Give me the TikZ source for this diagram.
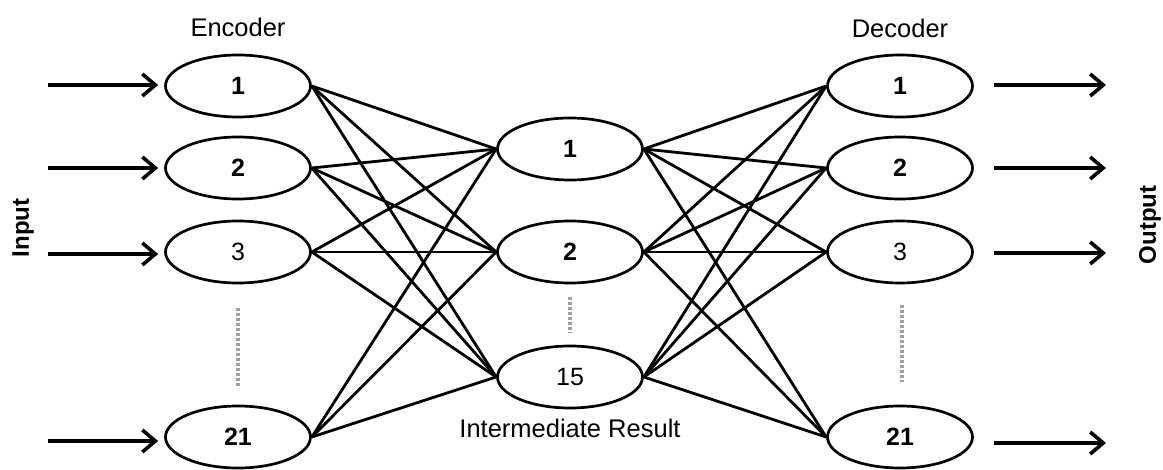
\documentclass[tikz,border=0pt]{standalone}
\usepackage{fontspec}
\setmainfont{Liberation Sans}
\usetikzlibrary{shapes.geometric,arrows.meta}
\tikzset{
  unit/.style={ellipse,draw,line width=2.7pt,minimum width=145pt,minimum height=62pt,inner sep=0pt,font=\fontsize{25}{27}\selectfont},
  link/.style={line width=2.8pt,black},
  flow/.style={line width=3.6pt,-{Straight Barb[length=13pt,width=22pt,line width=3.6pt]}},
  gap/.style={line width=4.5pt,gray!75,dash pattern=on 3pt off 2pt},
  title/.style={font=\fontsize{25.5}{27}\selectfont},
  side/.style={font=\bfseries\fontsize{24}{26}\selectfont,rotate=90}
}
\begin{document}
\begin{tikzpicture}[x=1pt,y=-1pt]
\useasboundingbox (0,0) rectangle (1163,470);

% encoder layer
\node[unit] (e1) at (238,86) {\textbf{1}};
\node[unit] (e2) at (238,168) {\textbf{2}};
\node[unit] (e3) at (238,252) {3};
\node[unit] (e21) at (238,437) {\textbf{21}};

% intermediate layer
\node[unit] (m1) at (570,149) {\textbf{1}};
\node[unit] (m2) at (570,252) {\textbf{2}};
\node[unit] (m15) at (570,377) {15};

% decoder layer
\node[unit] (d1) at (900,86) {\textbf{1}};
\node[unit] (d2) at (900,168) {\textbf{2}};
\node[unit] (d3) at (900,252) {3};
\node[unit] (d21) at (900,437) {\textbf{21}};

% labels
\node[title] (tenc) at (238,27) {Encoder};
\node[title] (tdec) at (900,28) {Decoder};
\node[title] (tmid) at (570,428) {Intermediate Result};
\node[side] (tin) at (23,228) {Input};
\node[side] (tout) at (1150,225) {Output};

% elided units
\draw[gap] (238,308) -- (238,388);
\draw[gap] (570,297) -- (570,333);
\draw[gap] (902,305) -- (902,382);

% full connections
\foreach \a in {e1,e2,e3,e21}
  \foreach \b in {m1,m2,m15}
    \draw[link] (\a.east) -- (\b.west);
\foreach \a in {m1,m2,m15}
  \foreach \b in {d1,d2,d3,d21}
    \draw[link] (\a.east) -- (\b.west);

% inputs and outputs
\foreach \n/\y in {e1/85,e2/168,e3/254,e21/441}{
  \coordinate (s\n) at (48,\y);
  \draw[flow] (s\n) -- ([xshift=-6pt]\n.west |- s\n);
}
\foreach \n/\y in {d1/85,d2/168,d3/253,d21/443}{
  \coordinate (t\n) at (1106,\y);
  \draw[flow] ([xshift=20pt]\n.east |- t\n) -- (t\n);
}
\end{tikzpicture}
\end{document}
